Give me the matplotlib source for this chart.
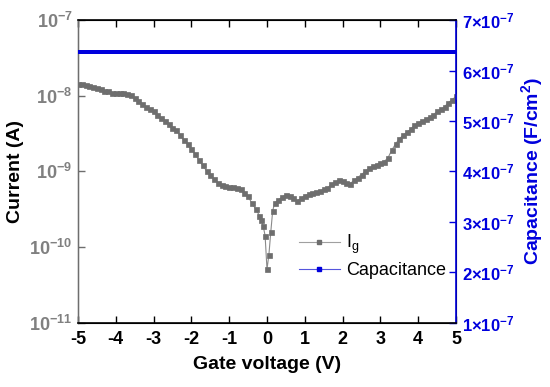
import numpy as np
import matplotlib.pyplot as plt
from matplotlib.lines import Line2D

plt.rcParams['font.family'] = ['Liberation Sans', 'DejaVu Sans']
plt.rcParams['mathtext.fontset'] = 'custom'
plt.rcParams['mathtext.rm'] = 'Liberation Sans'
plt.rcParams['mathtext.bf'] = 'Liberation Sans:bold'

# gate voltage sweep (V), finer around 0
voltage = [-5.0, -4.9, -4.8, -4.7, -4.6, -4.5, -4.4, -4.3, -4.2, -4.1,
           -4.0, -3.9, -3.8, -3.7, -3.6, -3.5, -3.4, -3.3, -3.2, -3.1,
           -3.0, -2.9, -2.8, -2.7, -2.6, -2.5, -2.4, -2.3, -2.2, -2.1,
           -2.0, -1.9, -1.8, -1.7, -1.6, -1.5, -1.4, -1.3, -1.2, -1.1,
           -1.0, -0.9, -0.8, -0.7, -0.6, -0.5, -0.4, -0.3, -0.2, -0.15,
           -0.1, -0.05, 0.0, 0.05, 0.1, 0.15, 0.2, 0.3, 0.4, 0.5,
           0.6, 0.7, 0.8, 0.9, 1.0, 1.1, 1.2, 1.3, 1.4, 1.5,
           1.6, 1.7, 1.8, 1.9, 2.0, 2.1, 2.2, 2.3, 2.4, 2.5,
           2.6, 2.7, 2.8, 2.9, 3.0, 3.1, 3.2, 3.3, 3.4, 3.5,
           3.6, 3.7, 3.8, 3.9, 4.0, 4.1, 4.2, 4.3, 4.4, 4.5,
           4.6, 4.7, 4.8, 4.9, 5.0]

# gate leakage current (A)
ig = [1.45e-8, 1.41e-8, 1.38e-8, 1.33e-8, 1.29e-8, 1.26e-8, 1.22e-8, 1.17e-8, 1.14e-8, 1.10e-8,
      1.08e-8, 1.08e-8, 1.10e-8, 1.07e-8, 1.02e-8, 9.3e-9, 8.5e-9, 7.9e-9, 7.2e-9, 6.6e-9,
      6.2e-9, 5.6e-9, 5.1e-9, 4.7e-9, 4.3e-9, 3.8e-9, 3.5e-9, 3.0e-9, 2.6e-9, 2.3e-9,
      2.0e-9, 1.7e-9, 1.41e-9, 1.20e-9, 1.02e-9, 8.9e-10, 7.9e-10, 7.1e-10, 6.6e-10, 6.5e-10,
      6.3e-10, 6.2e-10, 6.0e-10, 5.8e-10, 5.2e-10, 4.7e-10, 3.8e-10, 3.2e-10, 2.6e-10, 2.3e-10,
      1.9e-10, 1.41e-10, 5.1e-11, 7.9e-11, 1.58e-10, 3.0e-10, 3.8e-10, 4.2e-10, 4.6e-10, 4.9e-10,
      4.8e-10, 4.5e-10, 4.1e-10, 4.4e-10, 4.8e-10, 5.0e-10, 5.2e-10, 5.4e-10, 5.5e-10, 5.8e-10,
      6.0e-10, 6.8e-10, 7.2e-10, 7.6e-10, 7.4e-10, 7.1e-10, 6.9e-10, 7.6e-10, 8.3e-10, 9.1e-10,
      1.0e-9, 1.10e-9, 1.17e-9, 1.23e-9, 1.29e-9, 1.35e-9, 1.51e-9, 1.91e-9, 2.3e-9, 2.7e-9,
      3.0e-9, 3.3e-9, 3.6e-9, 4.1e-9, 4.4e-9, 4.6e-9, 4.9e-9, 5.2e-9, 5.6e-9, 6.2e-9,
      6.6e-9, 7.2e-9, 8.1e-9, 8.9e-9, 9.8e-9]

# capacitance (F/cm^2), flat over the sweep
cap_value = 6.37e-7
cap_voltage = [v / 10 for v in range(-50, 51)]
capacitance = [cap_value] * len(cap_voltage)

x_ticks = [-5, -4, -3, -2, -1, 0, 1, 2, 3, 4, 5]
left_ticks = [1e-11, 1e-10, 1e-9, 1e-8, 1e-7]
left_labels = ['$\\mathbf{10^{-11}}$', '$\\mathbf{10^{-10}}$', '$\\mathbf{10^{-9}}$',
               '$\\mathbf{10^{-8}}$', '$\\mathbf{10^{-7}}$']
right_ticks = [1e-7, 2e-7, 3e-7, 4e-7, 5e-7, 6e-7, 7e-7]
right_labels = [f'$\\mathbf{{{i}\u00d710^{{-7}}}}$' for i in range(1, 8)]

gray = '#6e6e6e'
blue = '#0000dd'

fig = plt.figure(figsize=(5.5, 3.87), dpi=100)
ax = fig.add_axes([0.1418, 0.166, 0.6873, 0.782])
ax2 = ax.twinx()

ax.plot(voltage, ig, color='#8a8a8a', lw=0.8, marker='s', ms=3.6,
        mfc=gray, mec=gray, mew=0.5, zorder=3)
ax2.plot(cap_voltage, capacitance, lw=0, marker='s', ms=2.2,
         mfc=blue, mec=blue, mew=0, zorder=3)

ax.set_yscale('log')
ax.set_xlim(-5, 5)
ax.set_ylim(1e-11, 1e-7)
ax2.set_ylim(1e-7, 7e-7)

ax.set_xticks(x_ticks)
ax.set_xticklabels([str(t) for t in x_ticks], fontsize=13, fontweight='bold')
ax.set_yticks(left_ticks)
ax.set_yticklabels(left_labels, fontsize=13, color='#808080')
ax.yaxis.set_minor_locator(plt.NullLocator())
ax2.set_yticks(right_ticks)
ax2.set_yticklabels(right_labels, fontsize=12, color=blue)

ax.tick_params(axis='x', direction='in', top=True, length=5, width=1, pad=6)
ax.tick_params(axis='y', direction='in', length=5, width=1, color=gray, pad=4)
ax2.tick_params(axis='y', direction='in', length=5, width=1, color=blue, pad=4)

for s in ['top', 'bottom']:
    ax2.spines[s].set_color('black')
    ax2.spines[s].set_linewidth(1.2)
ax2.spines['left'].set_color(gray)
ax2.spines['left'].set_linewidth(1.0)
ax2.spines['right'].set_color(blue)
ax2.spines['right'].set_linewidth(1.2)

ax.set_xlabel('Gate voltage (V)', fontsize=14, fontweight='bold', labelpad=6)
ax.set_ylabel('Current (A)', fontsize=14, fontweight='bold', labelpad=4)
ax2.set_ylabel('Capacitance (F/cm$\\mathbf{^2}$)', fontsize=14, fontweight='bold',
               color=blue, labelpad=4)

handles = [Line2D([], [], color='#a0a0a0', lw=0.8, marker='s', ms=2.6, mfc=gray, mec=gray),
           Line2D([], [], color='#5555dd', lw=0.8, marker='s', ms=2.8, mfc=blue, mec=blue)]
fig.legend(handles, ['I$_\\mathrm{g}$', 'Capacitance'], loc='upper left',
           bbox_to_anchor=(286 / 550, 1 - 220 / 387), frameon=False, fontsize=13,
           handlelength=2.3, handletextpad=0.35, labelspacing=0.35, borderpad=0.2)

fig.savefig('out.png', dpi=100)
